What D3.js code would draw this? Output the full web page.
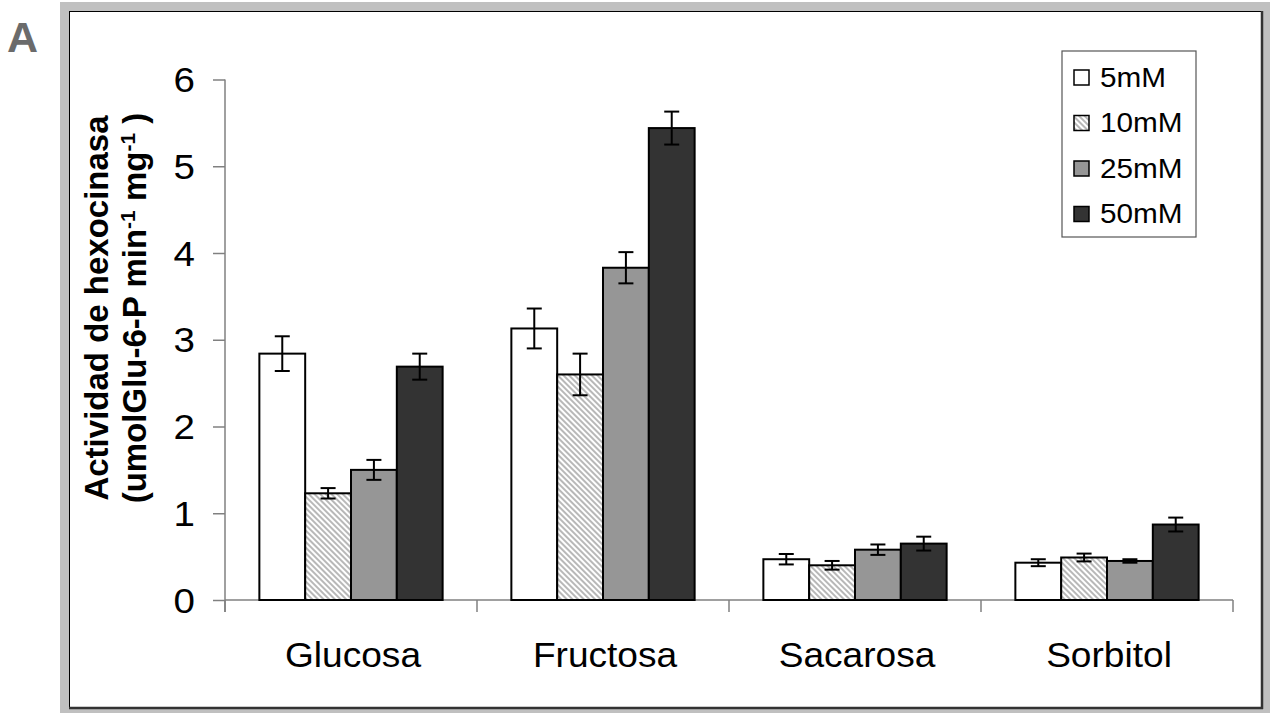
<!DOCTYPE html>
<html>
<head>
<meta charset="utf-8">
<script src="https://cdn.jsdelivr.net/npm/d3@7"></script>
<style>
  html, body { margin: 0; padding: 0; background: #fff; }
  svg { display: block; font-family: Arial, "Liberation Sans", sans-serif; }
</style>
</head>
<body>
<svg id="chart" width="1270" height="713"></svg>
<script>
// Hexokinase activity by sugar and concentration
const categories = ["Glucosa", "Fructosa", "Sacarosa", "Sorbitol"];
const seriesNames = ["5mM", "10mM", "25mM", "50mM"];
const values5 = [2.84, 3.13, 0.47, 0.43];
const values10 = [1.23, 2.60, 0.40, 0.49];
const values25 = [1.50, 3.83, 0.58, 0.45];
const values50 = [2.69, 5.44, 0.65, 0.87];
const err5 = [0.20, 0.23, 0.06, 0.04];
const err10 = [0.06, 0.24, 0.05, 0.045];
const err25 = [0.115, 0.18, 0.06, 0.02];
const err50 = [0.15, 0.19, 0.08, 0.08];
const yTicks = [0, 1, 2, 3, 4, 5, 6];

const seriesValues = [values5, values10, values25, values50];
const seriesErrors = [err5, err10, err25, err50];
const fills = ["#ffffff", "url(#hatch)", "#969696", "#333333"];

const svg = d3.select("#chart");

// hatch pattern for the 10mM series
const defs = svg.append("defs");
const pat = defs.append("pattern")
  .attr("id", "hatch")
  .attr("patternUnits", "userSpaceOnUse")
  .attr("width", 4).attr("height", 4)
  .attr("patternTransform", "rotate(-45)");
pat.append("rect").attr("width", 4).attr("height", 4).attr("fill", "#ffffff");
pat.append("line").attr("x1", 1).attr("y1", 0).attr("x2", 1).attr("y2", 4)
  .attr("stroke", "#a6a6a6").attr("stroke-width", 1.6);

// outer frame
svg.append("rect").attr("x", 60).attr("y", 2).attr("width", 1210).attr("height", 711).attr("fill", "#c0c0c0");
svg.append("rect").attr("x", 69.5).attr("y", 11.5).attr("width", 1192).attr("height", 697)
  .attr("fill", "#ffffff").attr("stroke", "#000").attr("stroke-width", 1);
svg.append("line").attr("x1", 69).attr("x2", 1263).attr("y1", 708).attr("y2", 708)
  .attr("stroke", "#333").attr("stroke-width", 2.5);
svg.append("line").attr("x1", 1262).attr("x2", 1262).attr("y1", 11).attr("y2", 709)
  .attr("stroke", "#333").attr("stroke-width", 2.5);

// panel letter
svg.append("text").attr("x", 7).attr("y", 52)
  .attr("font-size", 43).attr("font-weight", "bold").attr("fill", "#6b6b6b").text("A");

// scales
const y = d3.scaleLinear().domain([0, 6]).range([600, 79.5]);
const x0 = d3.scaleBand().domain(categories).range([225, 1233]).padding(0);
const bw = x0.bandwidth();
const gap = bw * 0.75 / 5.5;
const x1 = d3.scaleBand().domain(seriesNames).range([gap, bw - gap]).padding(0);

const axisColor = "#808080";

// y axis
const yAxis = svg.append("g").attr("transform", "translate(225,0)")
  .call(d3.axisLeft(y).tickValues(yTicks).tickSize(12).tickFormat(d3.format("d")));
yAxis.select(".domain").remove();
yAxis.selectAll(".tick line").attr("stroke", axisColor).attr("stroke-width", 1.5);
yAxis.selectAll(".tick text").remove();
svg.append("line").attr("x1", 225).attr("x2", 225).attr("y1", y(6)).attr("y2", 612)
  .attr("stroke", axisColor).attr("stroke-width", 1.5);

// y tick labels
svg.append("g").selectAll("text").data(yTicks).join("text")
  .attr("transform", d => `translate(195,${y(d)}) scale(1.1,1)`)
  .attr("text-anchor", "end").attr("dy", "0.36em")
  .attr("font-size", 35).attr("fill", "#000")
  .text(d => d);

// x axis
const xEdges = categories.map(c => x0(c)).concat([x0(categories[categories.length - 1]) + bw]);
svg.append("line").attr("x1", 225).attr("x2", 1233).attr("y1", y(0)).attr("y2", y(0))
  .attr("stroke", axisColor).attr("stroke-width", 1.5);
svg.append("g").selectAll("line").data(xEdges).join("line")
  .attr("x1", d => d).attr("x2", d => d).attr("y1", y(0)).attr("y2", y(0) + 12)
  .attr("stroke", axisColor).attr("stroke-width", 1.5);

// category labels
svg.append("g").selectAll("text").data(categories).join("text")
  .attr("transform", d => `translate(${x0(d) + bw / 2 + 2},667) scale(1.06,1)`)
  .attr("text-anchor", "middle")
  .attr("font-size", 35).attr("fill", "#000")
  .text(d => d);

// bars
const barData = [];
seriesNames.forEach((s, si) => {
  categories.forEach((c, ci) => {
    barData.push({ s, si, c, v: seriesValues[si][ci], e: seriesErrors[si][ci] });
  });
});

svg.append("g").selectAll("rect").data(barData).join("rect")
  .attr("x", d => x0(d.c) + x1(d.s))
  .attr("y", d => y(d.v))
  .attr("width", x1.bandwidth())
  .attr("height", d => y(0) - y(d.v))
  .attr("fill", d => fills[d.si])
  .attr("stroke", "#000").attr("stroke-width", 2);

// error bars
const eb = svg.append("g").attr("stroke", "#000").attr("stroke-width", 2);
barData.forEach(d => {
  const cx = x0(d.c) + x1(d.s) + x1.bandwidth() / 2;
  const yt = y(d.v + d.e), yb = y(d.v - d.e);
  eb.append("line").attr("x1", cx).attr("x2", cx).attr("y1", yt).attr("y2", yb);
  eb.append("line").attr("x1", cx - 7.5).attr("x2", cx + 7.5).attr("y1", yt).attr("y2", yt);
  eb.append("line").attr("x1", cx - 7.5).attr("x2", cx + 7.5).attr("y1", yb).attr("y2", yb);
});

// y axis title (two lines, rotated)
const title = svg.append("text")
  .attr("transform", "translate(108,308) rotate(-90)")
  .attr("text-anchor", "middle")
  .attr("font-size", 33).attr("font-weight", "bold").attr("fill", "#000");
title.append("tspan").attr("x", 0).attr("y", 0).text("Actividad de hexocinasa");
const t2 = title.append("tspan").attr("x", 0).attr("y", 38);
t2.append("tspan").text("(umolGlu-6-P min");
t2.append("tspan").attr("font-size", 21).attr("baseline-shift", "super").text("-1");
t2.append("tspan").text(" mg");
t2.append("tspan").attr("font-size", 21).attr("baseline-shift", "super").text("-1");
t2.append("tspan").text(" )");

// legend
const legend = svg.append("g");
legend.append("rect").attr("x", 1062).attr("y", 51).attr("width", 134).attr("height", 186)
  .attr("fill", "#fff").attr("stroke", "#555").attr("stroke-width", 1.2);
const rowY = d3.scalePoint().domain(seriesNames).range([77.5, 214]);
seriesNames.forEach((s, i) => {
  legend.append("rect").attr("x", 1074).attr("y", rowY(s) - 7.5).attr("width", 15).attr("height", 15)
    .attr("fill", fills[i]).attr("stroke", "#000").attr("stroke-width", 1.5);
  legend.append("text")
    .attr("transform", `translate(1100,${rowY(s)}) scale(1.1,1)`)
    .attr("dy", "0.35em").attr("font-size", 27).attr("fill", "#000")
    .text(s);
});
</script>
</body>
</html>
